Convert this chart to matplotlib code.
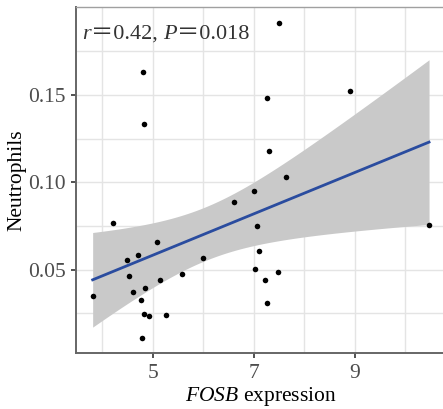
import numpy as np
import matplotlib.pyplot as plt
from matplotlib.offsetbox import TextArea, HPacker, AnchoredOffsetbox

plt.rcParams['font.family'] = 'Liberation Serif'
plt.rcParams['mathtext.fontset'] = 'custom'
plt.rcParams['mathtext.rm'] = 'Liberation Serif'
plt.rcParams['mathtext.it'] = 'Liberation Serif:italic'

# FOSB expression vs neutrophil fraction
fosb = [4.808, 4.828, 7.508, 7.251, 8.911, 7.304, 7.634, 7.002, 6.599, 7.061,
        10.466, 7.101, 7.022, 7.482, 7.231, 7.251, 4.208, 5.091, 4.715, 4.492,
        5.994, 4.532, 5.144, 5.571, 3.812, 4.848, 4.617, 4.761, 4.820, 4.933,
        5.255, 4.794]
neut = [0.1630, 0.1333, 0.1911, 0.1483, 0.1525, 0.1179, 0.1031, 0.0951, 0.0888, 0.0751,
        0.0753, 0.0608, 0.0503, 0.0486, 0.0441, 0.0309, 0.0766, 0.0656, 0.0583, 0.0553,
        0.0568, 0.0462, 0.0443, 0.0473, 0.0349, 0.0395, 0.0371, 0.0325, 0.0249, 0.0235,
        0.0241, 0.0112]
r_label = '0.42'
p_label = '0.018'

x = np.array(fosb)
y = np.array(neut)
n = len(x)

# linear fit with 95% confidence band
slope, intercept = np.polyfit(x, y, 1)
resid = y - (slope * x + intercept)
s = np.sqrt(np.sum(resid ** 2) / (n - 2))
t_crit = 2.042  # t(0.975, df=30)
xs = np.linspace(x.min(), x.max(), 100)
ys = slope * xs + intercept
se = s * np.sqrt(1 / n + (xs - x.mean()) ** 2 / np.sum((x - x.mean()) ** 2))

fig = plt.figure(figsize=(4.43, 4.09), dpi=100)
ax = fig.add_axes([0.1716, 0.1362, 0.835, 0.846])

ax.fill_between(xs, ys - t_crit * se, ys + t_crit * se, color='#c9c9c9', lw=0, zorder=2)
ax.plot(xs, ys, color='#2a4c9f', lw=2, zorder=3)
ax.scatter(x, y, s=16, color='black', lw=0, zorder=4)

ax.set_xlim(3.483, 10.80)
ax.set_ylim(0.0022, 0.2001)
ax.set_xticks([5, 7, 9])
ax.set_yticks([0.05, 0.10, 0.15])
ax.set_yticklabels(['0.05', '0.10', '0.15'])
ax.set_xticks([4, 6, 8, 10], minor=True)
ax.set_yticks([0.025, 0.075, 0.125, 0.175], minor=True)
ax.grid(True, which='both', color='#e4e4e4', lw=1, zorder=0)
ax.set_axisbelow(True)

ax.tick_params(which='major', length=3.5, width=1.2, color='#333333', labelsize=15.5,
               labelcolor='#4d4d4d', pad=4)
ax.tick_params(which='minor', length=0)
for side in ['left', 'bottom']:
    ax.spines[side].set_color('#666666')
    ax.spines[side].set_linewidth(1.4)
ax.spines['top'].set_color('#a0a0a0')
ax.spines['top'].set_linewidth(1)
ax.spines['right'].set_visible(False)

ax.set_xlabel(r'$\mathit{FOSB}$ expression', fontsize=15.5, labelpad=2)
ax.set_ylabel('Neutrophils', fontsize=15.5, labelpad=1)

# correlation label: italic r / P, wide equals signs
fam = ['Liberation Serif', 'Noto Sans CJK SC']
ital = dict(fontsize=16, color='#333333', family='Liberation Serif', style='italic')
norm = dict(fontsize=16, color='#333333', family=fam)
parts = [TextArea('r', textprops=ital),
         TextArea('\uff1d' + r_label + ', ', textprops=norm),
         TextArea('P', textprops=ital),
         TextArea('\uff1d' + p_label, textprops=norm)]
box = HPacker(children=parts, pad=0, sep=0, align='baseline')
anchored = AnchoredOffsetbox(loc='upper left', child=box, pad=0, frameon=False,
                             bbox_to_anchor=(0.016, 0.95), bbox_transform=ax.transAxes,
                             borderpad=0)
ax.add_artist(anchored)

fig.savefig('out.png', dpi=100)
